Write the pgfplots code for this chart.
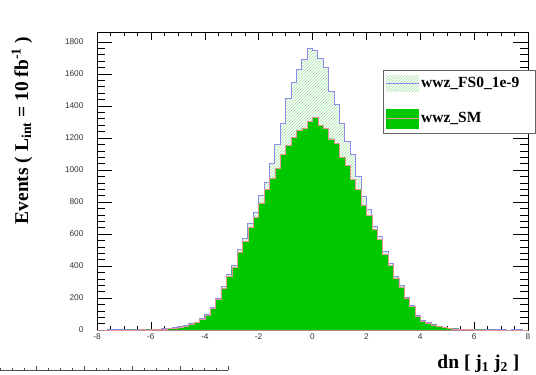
\documentclass[border=0pt]{standalone}
\usepackage{fontspec}
\setmainfont{Liberation Serif}
\setsansfont{Liberation Sans}
\usepackage{pgfplots}
\pgfplotsset{compat=1.18}
\usepackage{pgfplotstable}
\usetikzlibrary{patterns}

\definecolor{smgreen}{RGB}{0,200,0}
\definecolor{smline}{RGB}{230,150,150}
\definecolor{fsblue}{RGB}{140,140,235}
\definecolor{hatchgreen}{RGB}{160,225,160}

% dn(j1,j2) histogram, 0.2 wide bins; x = left bin edge
\pgfplotstableread{
x     sm    fs
-8.0  0     0
-7.8  0     0
-7.6  1     1
-7.4  0     1
-7.2  1     1
-7.0  1     2
-6.8  2     2
-6.6  1     2
-6.4  3     3
-6.2  2     3
-6.0  4     5
-5.8  5     6
-5.6  6     8
-5.4  9     11
-5.2  12    14
-5.0  18    20
-4.8  26    29
-4.6  38    40
-4.4  46    50
-4.2  68    72
-4.0  95    100
-3.8  135   142
-3.6  190   198
-3.4  262   272
-3.2  335   347
-3.0  395   406
-2.8  488   502
-2.6  552   570
-2.4  640   665
-2.2  702   735
-2.0  795   840
-1.8  880   920
-1.6  950   1040
-1.4  1012  1160
-1.2  1098  1290
-1.0  1152  1450
-0.8  1205  1545
-0.6  1248  1630
-0.4  1262  1690
-0.2  1305  1758
0.0   1330  1745
0.2   1278  1698
0.4   1262  1640
0.6   1195  1490
0.8   1168  1410
1.0   1082  1290
1.2   1030  1180
1.4   942   1100
1.6   878   960
1.8   782   835
2.0   718   752
2.2   628   650
2.4   566   585
2.6   472   488
2.8   405   415
3.0   325   335
3.2   270   278
3.4   198   205
3.6   146   152
3.8   85    90
4.0   57    60
4.2   42    45
4.4   33    35
4.6   24    25
4.8   16    17
5.0   11    12
5.2   8     9
5.4   5     6
5.6   4     4
5.8   3     3
6.0   2     3
6.2   2     2
6.4   1     1
6.6   1     1
6.8   0     1
7.0   1     1
7.2   0     0
7.4   0     1
7.6   1     1
7.8   0     0
8.0   0     0
}\histdata

\begin{document}
\begin{tikzpicture}
\begin{axis}[
  width=431pt, height=298pt, scale only axis,
  xmin=-8, xmax=8, ymin=0, ymax=1862,
  axis line style={black, line width=0.6pt},
  tick align=inside, tick pos=both,
  tick style={black, line width=0.5pt},
  every major x tick/.append style={/pgfplots/major tick length=8pt},
  every minor x tick/.append style={/pgfplots/minor tick length=4pt},
  every major y tick/.append style={/pgfplots/major tick length=15pt},
  every minor y tick/.append style={/pgfplots/minor tick length=8pt},
  xtick={-8,-6,...,8},
  xticklabels={-8,-6,-4,-2,0,2,4,6,8},
  minor x tick num=3,
  ytick={0,200,...,1800},
  minor y tick num=4,
  /pgf/number format/assume math mode=true,
  /pgf/number format/1000 sep={},
  tick label style={font=\sffamily\fontsize{8.3}{9}\selectfont, text=black!80},
  yticklabel style={xshift=-10pt},
  xlabel={\bfseries dn [ j\textsubscript{1} j\textsubscript{2} ]},
  xlabel style={font=\fontsize{19.5}{22}\selectfont, at={(axis description cs:0.9880,-0.1290)}, anchor=base east},
  ylabel={\bfseries Events ( L\textsubscript{int} = 10 fb\textsuperscript{-1} )},
  ylabel style={font=\fontsize{19.5}{22}\selectfont, at={(axis description cs:-0.160,0.9966)}, anchor=base east},
  legend style={at={(0.6636,0.872)}, anchor=north west, draw=black!60, line width=0.8pt,
    font=\bfseries\fontsize{15.5}{17}\selectfont, inner xsep=2pt, inner ysep=5pt,
    row sep=17pt, cells={anchor=west}},
]
\addplot[const plot, draw=fsblue, line width=0.8pt,
  pattern color=hatchgreen, pattern=north east lines,
  legend image code/.code={
    \path[draw=none, pattern color=hatchgreen, pattern=north east lines] (0pt,-8pt) rectangle (33pt,8pt);
    \draw[fsblue, line width=0.8pt] (0pt,0pt) -- (33pt,0pt);}]
  table[x=x, y=fs] {\histdata} \closedcycle;
\addlegendentry{wwz\_FS0\_1e-9\hspace*{12pt}}
\addplot[const plot, draw=smline, line width=0.35pt, fill=smgreen,
  legend image code/.code={
    \path[draw=none, fill=smgreen] (0pt,-10pt) rectangle (33pt,10pt);
    \draw[smline, line width=0.5pt] (0pt,0pt) -- (33pt,0pt);}]
  table[x=x, y=sm] {\histdata} \closedcycle;
\addlegendentry{wwz\_SM}
\node[anchor=south west, inner sep=1pt, font=\sffamily\fontsize{8}{9}\selectfont, text=black]
  at (axis description cs:0,1) {$\times$10\textsuperscript{-3}};
\end{axis}
% top edge of the lower panel
\begin{scope}[shift={(-97pt,-45pt)}, x=1pt, y=1pt]
\draw[black!70, line width=0.5pt] (0,5) -- (228,5);
\foreach \i in {0,...,19} { \draw[black!70, line width=0.4pt] (228-12*\i,5) -- ++(0,2); }
\foreach \x in {36,84,132,180,228} { \draw[black!70, line width=0.4pt] (\x,5) -- ++(0,4); }
\end{scope}
\pgfresetboundingbox
\path[use as bounding box] (-97pt,-45pt) rectangle (439pt,330pt);
\end{tikzpicture}
\end{document}
